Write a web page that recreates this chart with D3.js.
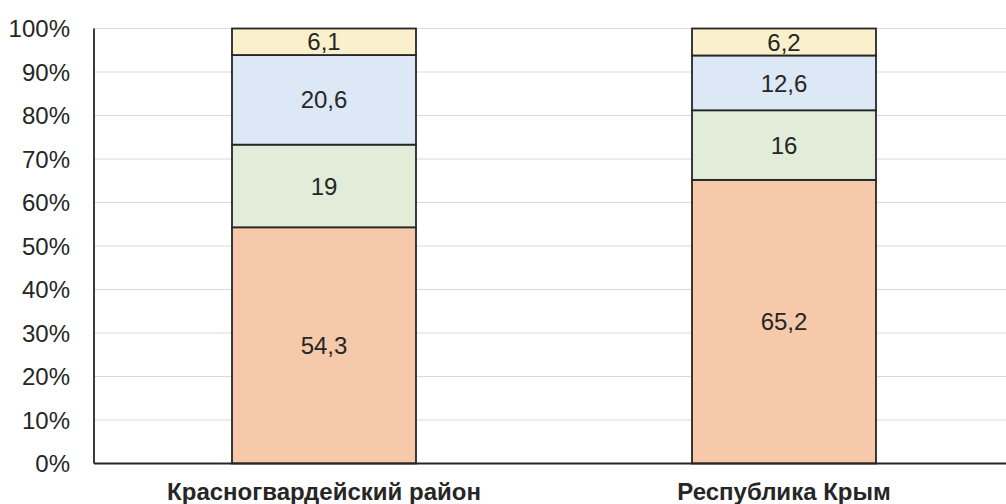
<!DOCTYPE html>
<head>
    <meta charset="utf-8">
    <style>
        body { margin: 0; background: #fff; }
        text { font-family: "Liberation Sans", Arial, sans-serif; fill: #262626; }
    </style>
    <script src="https://d3js.org/d3.v7.min.js"></script>
</head>
<body>
    <div id="block"></div>
    <script>

        // categories and stacked series (percent)
        var categories = ["Красногвардейский район", "Республика Крым"];
        var seriesA = [54.3, 65.2];
        var seriesB = [19, 16];
        var seriesC = [20.6, 12.6];
        var seriesD = [6.1, 6.2];
        var yTicks = [0, 10, 20, 30, 40, 50, 60, 70, 80, 90, 100];

        var colors = ["#f5c9aa", "#e1edd8", "#dce8f5", "#fbf0cc"];

        var w = 1006,
            h = 504;

        var svg = d3.select("#block")
                    .append("svg")
                    .attr("width", w)
                    .attr("height", h);

        var x = d3.scaleBand()
                  .domain(categories)
                  .range([94, 1014])
                  .paddingInner(0.6)
                  .paddingOuter(0.3);

        var y = d3.scaleLinear()
                  .domain([0, 100])
                  .range([463.5, 28.5]);

        var fmt = function(v) { return String(v).replace(".", ","); };

        // gridlines
        svg.append("g")
           .selectAll("line")
           .data(yTicks.slice(1))
           .enter()
           .append("line")
           .attr("x1", 94).attr("x2", w)
           .attr("y1", function(d) { return y(d); })
           .attr("y2", function(d) { return y(d); })
           .attr("stroke", "#d9d9d9")
           .attr("stroke-width", 1.2);

        // y tick labels
        svg.append("g")
           .selectAll("text")
           .data(yTicks)
           .enter()
           .append("text")
           .attr("x", 70)
           .attr("y", function(d) { return y(d); })
           .attr("dy", "0.36em")
           .attr("text-anchor", "end")
           .style("font-size", "24px")
           .text(function(d) { return d + "%"; });

        // stack
        var rows = categories.map(function(c, i) {
            return { cat: c, a: seriesA[i], b: seriesB[i], c: seriesC[i], d: seriesD[i] };
        });
        var stack = d3.stack().keys(["a", "b", "c", "d"])(rows);

        var layer = svg.append("g")
           .selectAll("g")
           .data(stack)
           .enter()
           .append("g")
           .attr("fill", function(d, i) { return colors[i]; });

        layer.selectAll("rect")
           .data(function(d) { return d; })
           .enter()
           .append("rect")
           .attr("x", function(d) { return x(d.data.cat); })
           .attr("width", x.bandwidth())
           .attr("y", function(d) { return y(d[1]); })
           .attr("height", function(d) { return y(d[0]) - y(d[1]); })
           .attr("stroke", "#262626")
           .attr("stroke-width", 1.8);

        layer.selectAll("text")
           .data(function(d) { return d; })
           .enter()
           .append("text")
           .attr("x", function(d) { return x(d.data.cat) + x.bandwidth() / 2; })
           .attr("y", function(d) { return (y(d[0]) + y(d[1])) / 2; })
           .attr("dy", "0.36em")
           .attr("text-anchor", "middle")
           .style("font-size", "24px")
           .text(function(d) { return fmt(+(d[1] - d[0]).toFixed(1)); });

        // axes lines
        svg.append("line")
           .attr("x1", 94).attr("x2", 94)
           .attr("y1", y(100)).attr("y2", y(0))
           .attr("stroke", "#262626").attr("stroke-width", 1.8);
        svg.append("line")
           .attr("x1", 94).attr("x2", w)
           .attr("y1", y(0)).attr("y2", y(0))
           .attr("stroke", "#262626").attr("stroke-width", 1.8);

        // category labels
        svg.append("g")
           .selectAll("text")
           .data(categories)
           .enter()
           .append("text")
           .attr("x", function(d) { return x(d) + x.bandwidth() / 2; })
           .attr("y", 500)
           .attr("text-anchor", "middle")
           .style("font-size", "24px")
           .style("font-weight", "bold")
           .text(function(d) { return d; });

    </script>
</body>
